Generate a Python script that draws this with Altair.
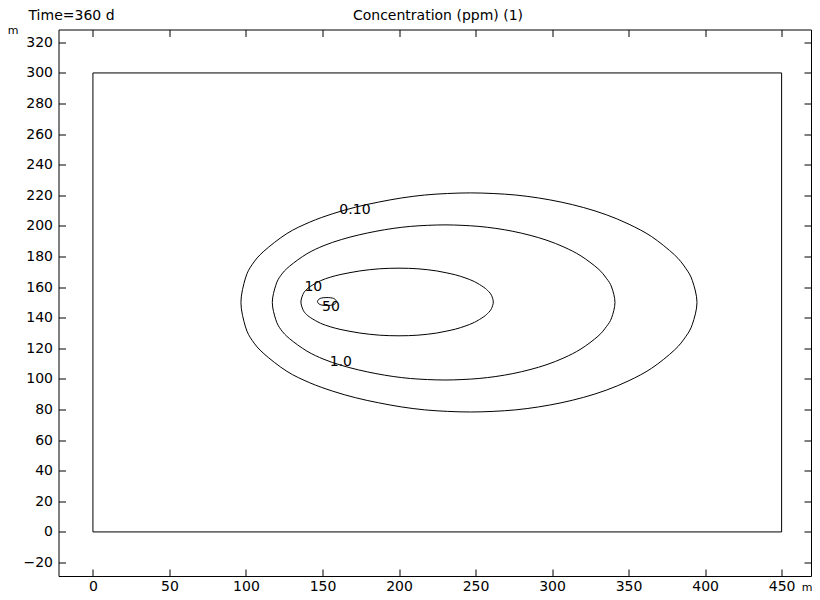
import altair as alt
import pandas as pd

FONT = "DejaVu Sans"

# Contour levels and their closed curves (m)
levels = ["0.10", "1.0", "10", "50"]

c010_x = [96.7, 99.7, 104.2, 111.7, 126.7, 141.7, 156.7, 171.7, 186.7, 201.7, 216.7, 231.7, 246.7,
          261.5, 276.3, 291.1, 305.9, 320.7, 335.5, 350.3, 365.1, 379.9, 387.3, 391.7, 394.7,
          391.7, 387.3, 379.9, 365.1, 350.3, 335.5, 320.7, 305.9, 291.1, 276.3, 261.5, 246.7,
          231.7, 216.7, 201.7, 186.7, 171.7, 156.7, 141.7, 126.7, 111.7, 104.2, 99.7]
c010_y = [150.0, 166.0, 175.0, 183.5, 195.0, 202.5, 208.0, 212.3, 215.6, 218.3, 220.2, 221.2, 221.6,
          221.2, 220.2, 218.3, 215.6, 212.0, 207.3, 201.1, 193.0, 181.2, 172.4, 164.2, 150.0,
          135.8, 127.6, 118.8, 107.0, 98.9, 92.7, 88.0, 84.4, 81.7, 79.8, 78.8, 78.4,
          78.8, 79.8, 81.7, 84.4, 87.7, 92.0, 97.5, 105.0, 116.5, 125.0, 134.0]

c1_x = [117.2, 119.5, 122.8, 128.5, 139.8, 151.0, 162.3, 173.6, 184.9, 196.2, 207.4, 218.7, 230.0,
        241.1, 252.2, 263.3, 274.4, 285.6, 296.7, 307.8, 318.9, 330.0, 335.5, 338.9, 341.1,
        338.9, 335.5, 330.0, 318.9, 307.8, 296.7, 285.6, 274.4, 263.3, 252.2, 241.1, 230.0,
        218.7, 207.4, 196.2, 184.9, 173.6, 162.3, 151.0, 139.8, 128.5, 122.8, 119.5]
c1_y = [150.0, 161.3, 167.7, 173.7, 181.8, 187.2, 191.1, 194.1, 196.5, 198.4, 199.7, 200.4, 200.7,
        200.4, 199.7, 198.4, 196.5, 193.9, 190.6, 186.2, 180.4, 172.1, 165.8, 160.1, 150.0,
        139.9, 134.2, 127.9, 119.6, 113.8, 109.4, 106.1, 103.5, 101.6, 100.3, 99.6, 99.3,
        99.6, 100.3, 101.6, 103.5, 105.9, 108.9, 112.8, 118.2, 126.3, 132.3, 138.7]

c10_x = [135.9, 137.2, 139.1, 142.3, 148.7, 155.1, 161.5, 168.0, 174.4, 180.8, 187.2, 193.6, 200.0,
         206.2, 212.3, 218.5, 224.6, 230.8, 237.0, 243.1, 249.3, 255.4, 258.5, 260.4, 261.6,
         260.4, 258.5, 255.4, 249.3, 243.1, 237.0, 230.8, 224.6, 218.5, 212.3, 206.2, 200.0,
         193.6, 187.2, 180.8, 174.4, 168.0, 161.5, 155.1, 148.7, 142.3, 139.1, 137.2]
c10_y = [150.3, 155.2, 158.0, 160.6, 164.2, 166.5, 168.2, 169.5, 170.6, 171.4, 172.0, 172.3, 172.4,
         172.3, 172.0, 171.4, 170.6, 169.4, 168.0, 166.1, 163.6, 159.9, 157.2, 154.7, 150.3,
         145.9, 143.4, 140.7, 137.0, 134.5, 132.6, 131.2, 130.0, 129.2, 128.6, 128.3, 128.2,
         128.3, 128.6, 129.2, 130.0, 131.1, 132.4, 134.1, 136.4, 140.0, 142.6, 145.4]

c50_x = [146.7, 148.5, 152.9, 157.3, 159.1, 157.3, 152.9, 148.5]
c50_y = [150.6, 152.6, 153.2, 152.6, 150.6, 148.6, 148.0, 148.6]

# Contour label positions
label_text = ["0.10", "1.0", "10", "50"]
label_x = [171.2, 162.0, 144.0, 155.5]
label_y = [210.5, 111.0, 160.3, 146.9]

# Geometry boundary (m)
bound_x = [0, 450]
bound_y = [0, 300]

# Axes
x_domain = [-22.5, 469.2]
y_domain = [-28.8, 328.4]
x_ticks = [0, 50, 100, 150, 200, 250, 300, 350, 400, 450]
y_ticks = [-20, 0, 20, 40, 60, 80, 100, 120, 140, 160, 180, 200, 220, 240, 260, 280, 300, 320]

rows = []
for lvl, xs, ys in zip(levels, [c010_x, c1_x, c10_x, c50_x], [c010_y, c1_y, c10_y, c50_y]):
    for i, (xv, yv) in enumerate(zip(xs, ys)):
        rows.append({"level": lvl, "i": i, "x": xv, "y": yv})
contours = pd.DataFrame(rows)
labels = pd.DataFrame({"text": label_text, "x": label_x, "y": label_y})
bound = pd.DataFrame({"x": [bound_x[0]], "x2": [bound_x[1]], "y": [bound_y[0]], "y2": [bound_y[1]]})

W, H = 752.5, 546.5
xs_scale = alt.Scale(domain=x_domain, nice=False, zero=False)
ys_scale = alt.Scale(domain=y_domain, nice=False, zero=False)

common = dict(grid=False, domain=False, tickSize=7, offset=-7, tickColor="black",
              tickWidth=1, labelFont=FONT, labelFontSize=14, labelColor="black",
              titleFont=FONT, titleColor="black", titleFontWeight="normal", titleAngle=0)

x_bottom = alt.Axis(orient="bottom", values=x_ticks, labelPadding=3, title="m",
                    titleFontSize=11, titleX=748, titleY=21, titleAlign="center",
                    titleBaseline="alphabetic", **common)
y_left = alt.Axis(orient="left", values=y_ticks, labelPadding=6, title="m",
                  titleFontSize=11, titleX=-53, titleY=1, titleAlign="center",
                  titleBaseline="middle", **common)
x_top = alt.Axis(orient="top", values=x_ticks, labels=False, title="Concentration (ppm) (1)",
                 titleFontSize=14, titleX=379, titleY=-21.5, titleAlign="center",
                 titleBaseline="middle", **common)
y_right = alt.Axis(orient="right", values=y_ticks, labels=False, title="Time=360 d",
                   titleFontSize=14, titleX=-776, titleY=-14.5, titleAlign="left",
                   titleBaseline="middle", **common)

frame = alt.Chart(bound).mark_rect(fillOpacity=0, stroke="black", strokeWidth=1).encode(
    x=alt.X("x:Q", scale=xs_scale, axis=x_top),
    x2="x2:Q",
    y=alt.Y("y:Q", scale=ys_scale, axis=y_right),
    y2="y2:Q",
)

lines = alt.Chart(contours).mark_line(color="black", strokeWidth=1,
                                      interpolate="cardinal-closed").encode(
    x=alt.X("x:Q", scale=xs_scale, axis=x_bottom),
    y=alt.Y("y:Q", scale=ys_scale, axis=y_left),
    detail="level:N",
    order="i:Q",
)

texts = alt.Chart(labels).mark_text(font=FONT, fontSize=14, color="black").encode(
    x=alt.X("x:Q", scale=xs_scale, axis=None),
    y=alt.Y("y:Q", scale=ys_scale, axis=None),
    text="text:N",
)

chart = alt.layer(frame, lines, texts).resolve_axis(x="independent", y="independent").properties(
    width=W,
    height=H,
    autosize=alt.AutoSizeParams(type="none"),
    padding={"left": 50.5, "top": 21.5, "right": 1, "bottom": 16},
).configure_view(stroke="black", strokeWidth=1)

chart.save("out.html", embed_options={"renderer": "svg", "actions": False})
